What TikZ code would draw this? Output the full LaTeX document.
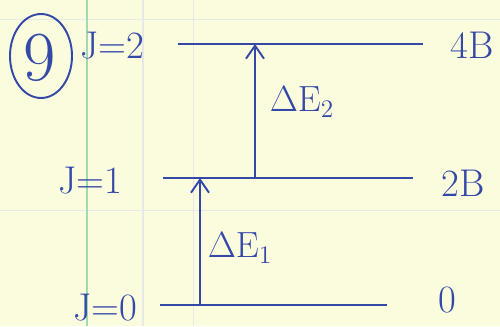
\documentclass[tikz,border=0pt]{standalone}
\usepackage{tikz}
\usetikzlibrary{arrows.meta}
\definecolor{paper}{RGB}{251,251,222}
\definecolor{ink}{RGB}{52,72,168}
\definecolor{margin}{RGB}{160,218,175}
\definecolor{rule}{RGB}{228,234,232}
\tikzset{
  level/.style={line width=1.1pt, ink},
  trans/.style={-{Straight Barb[length=2.6mm,width=3.6mm]}, line width=1.1pt, ink},
  hand/.style={ink, font=\fontsize{22}{24}\selectfont}
}
\begin{document}
\begin{tikzpicture}[line width=0.5pt]
  \useasboundingbox[fill=paper] (0,0) rectangle (10,6.52);
  \draw[rule, line width=0.6pt] (2.86,0) -- (2.86,6.52);
  \draw[rule, line width=0.4pt] (3.86,0) -- (3.86,6.52);
  \draw[rule, line width=0.4pt] (0,6.14) -- (10,6.14);
  \draw[rule, line width=0.4pt] (0,2.32) -- (10,2.32);
  \draw[margin, line width=0.8pt] (1.74,0) -- (1.74,6.52);
  % problem number
  \draw[ink, line width=1.1pt] (0.82,5.4) ellipse (0.62 and 0.84);
  \node[ink, font=\fontsize{40}{44}\selectfont] (num) at (0.8,5.36) {9};
  % levels
  \draw[level] (3.56,5.64) coordinate (j2l) -- (8.46,5.64) coordinate (j2r);
  \draw[level] (3.26,2.96) coordinate (j1l) -- (8.26,2.96) coordinate (j1r);
  \draw[level] (3.2,0.42) coordinate (j0l) -- (7.74,0.42) coordinate (j0r);
  \coordinate (a1s) at (4.0,0.42);
  \coordinate (a1e) at (4.0,2.96);
  \coordinate (a2s) at (5.1,2.96);
  \coordinate (a2e) at (5.1,5.64);
  \draw[trans] (a1s) -- (a1e);
  \draw[trans] (a2s) -- (a2e);
  \node[hand] (de1) at (4.8,1.56) {$\Delta\mathrm{E}_1$};
  \node[hand] (de2) at (6.04,4.48) {$\Delta\mathrm{E}_2$};
  \node[hand] (jtwo) at (2.24,5.6) {J=2};
  \node[hand] (jone) at (1.8,2.9) {J=1};
  \node[hand] (jzero) at (2.1,0.36) {J=0};
  \node[hand] (e2) at (9.44,5.62) {4B};
  \node[hand] (e1) at (9.26,2.86) {2B};
  \node[hand] (e0) at (8.94,0.52) {0};
\end{tikzpicture}
\end{document}
